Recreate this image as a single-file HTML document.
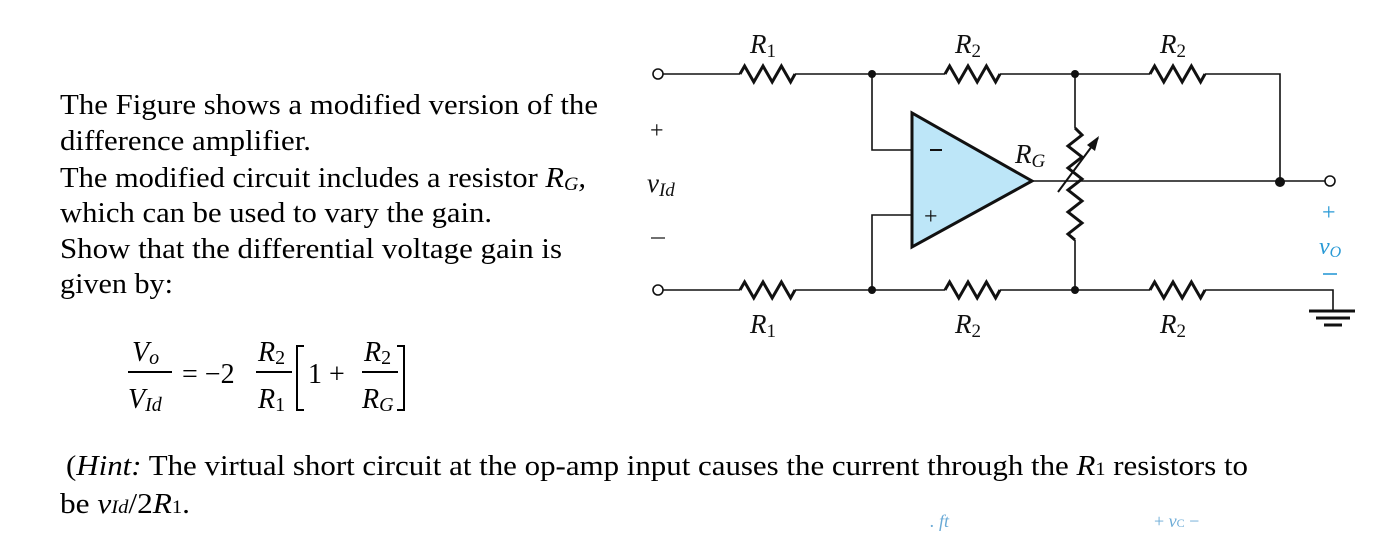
<!DOCTYPE html>
<html><head><meta charset="utf-8"><style>
html,body{margin:0;padding:0;background:#fff;}
svg{display:block;}
text{font-family:"Liberation Serif",serif;}
</style></head><body>
<svg width="1373" height="540" viewBox="0 0 1373 540" xmlns="http://www.w3.org/2000/svg">
<g font-size="29" fill="#000">
<text x="60" y="114" textLength="538" lengthAdjust="spacingAndGlyphs">The Figure shows a modified version of the</text>
<text x="60" y="150" textLength="251" lengthAdjust="spacingAndGlyphs">difference amplifier.</text>
<text x="60" y="187" textLength="526" lengthAdjust="spacingAndGlyphs">The modified circuit includes a resistor <tspan font-style="italic">R<tspan font-size="19" dy="3">G</tspan><tspan dy="-3">,</tspan></tspan></text>
<text x="60" y="222" textLength="432" lengthAdjust="spacingAndGlyphs">which can be used to vary the gain.</text>
<text x="60" y="258" textLength="502" lengthAdjust="spacingAndGlyphs">Show that the differential voltage gain is</text>
<text x="60" y="293" textLength="113" lengthAdjust="spacingAndGlyphs">given by:</text>
<text x="66" y="475" textLength="1182" lengthAdjust="spacingAndGlyphs">(<tspan font-style="italic">Hint:</tspan> The virtual short circuit at the op-amp input causes the current through the <tspan font-style="italic">R</tspan><tspan font-size="19">1</tspan> resistors to</text>
<text x="60" y="513" textLength="130" lengthAdjust="spacingAndGlyphs">be <tspan font-style="italic">v<tspan font-size="19">Id</tspan></tspan>/2<tspan font-style="italic">R</tspan><tspan font-size="19">1</tspan>.</text>
</g>
<!-- formula -->
<g font-size="28" fill="#000">
<text x="132" y="361" font-style="italic">V<tspan font-size="20" dy="3">o</tspan></text>
<line x1="128" y1="372" x2="172" y2="372" stroke="#000" stroke-width="2"/>
<text x="128" y="408" font-style="italic">V<tspan font-size="20" dy="3">Id</tspan></text>
<text x="182" y="383">= −2</text>
<text x="258" y="361" font-style="italic">R<tspan font-size="20" dy="3" font-style="normal">2</tspan></text>
<line x1="256" y1="372" x2="292" y2="372" stroke="#000" stroke-width="2"/>
<text x="258" y="408" font-style="italic">R<tspan font-size="20" dy="3" font-style="normal">1</tspan></text>
<path d="M304 346 H297 V410 H304" fill="none" stroke="#000" stroke-width="2"/>
<text x="308" y="383">1 +</text>
<text x="364" y="361" font-style="italic">R<tspan font-size="20" dy="3" font-style="normal">2</tspan></text>
<line x1="362" y1="372" x2="398" y2="372" stroke="#000" stroke-width="2"/>
<text x="362" y="408" font-style="italic">R<tspan font-size="20" dy="3">G</tspan></text>
<path d="M397 346 H404 V410 H397" fill="none" stroke="#000" stroke-width="2"/>
</g>
<!-- circuit -->
<g stroke="#111" stroke-width="1.6" fill="none">
<line x1="662" y1="74" x2="740" y2="74"/>
<line x1="795" y1="74" x2="945" y2="74"/>
<line x1="1000" y1="74" x2="1150" y2="74"/>
<polyline points="1205,74 1280,74 1280,182"/>
<line x1="662" y1="290" x2="740" y2="290"/>
<line x1="795" y1="290" x2="945" y2="290"/>
<line x1="1000" y1="290" x2="1150" y2="290"/>
<polyline points="1205,290 1333,290 1333,310"/>
<polyline points="872,74 872,150 912,150"/>
<polyline points="872,290 872,215 912,215"/>
<line x1="1075" y1="74" x2="1075" y2="128"/>
<line x1="1075" y1="240" x2="1075" y2="290"/>
<line x1="1032" y1="181" x2="1326" y2="181"/>
</g>
<g stroke="#111" stroke-width="3" fill="none" stroke-linejoin="miter">
<polyline points="740,74 744.6,66 753.8,82 763,66 772.2,82 781.4,66 790.6,82 795,74"/>
<polyline points="945,74 949.6,66 958.8,82 968,66 977.2,82 986.4,66 995.6,82 1000,74"/>
<polyline points="1150,74 1154.6,66 1163.8,82 1173,66 1182.2,82 1191.4,66 1200.6,82 1205,74"/>
<polyline points="740,290 744.6,282 753.8,298 763,282 772.2,298 781.4,282 790.6,298 795,290"/>
<polyline points="945,290 949.6,282 958.8,298 968,282 977.2,298 986.4,282 995.6,298 1000,290"/>
<polyline points="1150,290 1154.6,282 1163.8,298 1173,282 1182.2,298 1191.4,282 1200.6,298 1205,290"/>
<polyline points="1075,128 1082,135 1068,146 1082,157 1068,168 1082,179 1068,190 1082,201 1068,212 1082,223 1068,234 1075,240"/>
</g>
<line x1="1058" y1="192" x2="1098" y2="138" stroke="#111" stroke-width="2"/>
<path d="M1099 136 L1087 145 L1095 151 Z" fill="#111"/>
<polygon points="912,113 912,247 1032,181" fill="#bde6f8" stroke="#111" stroke-width="3"/>
<line x1="930" y1="150" x2="942" y2="150" stroke="#111" stroke-width="2"/>
<text x="924" y="224" font-size="24" fill="#111">+</text>
<g fill="#111">
<circle cx="872" cy="74" r="4"/><circle cx="1075" cy="74" r="4"/>
<circle cx="872" cy="290" r="4"/><circle cx="1075" cy="290" r="4"/>
<circle cx="1280" cy="182" r="5"/>
</g>
<g fill="#fff" stroke="#111" stroke-width="1.6">
<circle cx="658" cy="74" r="5"/><circle cx="658" cy="290" r="5"/><circle cx="1330" cy="181" r="5"/>
</g>
<g stroke="#111" stroke-width="3">
<line x1="1309" y1="311" x2="1355" y2="311"/>
<line x1="1316" y1="318" x2="1350" y2="318"/>
<line x1="1324" y1="325" x2="1342" y2="325"/>
</g>
<g font-size="27" fill="#111" font-style="italic">
<text x="750" y="53">R<tspan font-size="19" font-style="normal" dy="4">1</tspan></text>
<text x="955" y="53">R<tspan font-size="19" font-style="normal" dy="4">2</tspan></text>
<text x="1160" y="53">R<tspan font-size="19" font-style="normal" dy="4">2</tspan></text>
<text x="750" y="333">R<tspan font-size="19" font-style="normal" dy="4">1</tspan></text>
<text x="955" y="333">R<tspan font-size="19" font-style="normal" dy="4">2</tspan></text>
<text x="1160" y="333">R<tspan font-size="19" font-style="normal" dy="4">2</tspan></text>
<text x="1015" y="163">R<tspan font-size="19" dy="4">G</tspan></text>
<text x="647" y="192">v<tspan font-size="19" dy="4">Id</tspan></text>
</g>
<text x="650" y="138" font-size="24" fill="#111">+</text>
<line x1="651" y1="238" x2="665" y2="238" stroke="#111" stroke-width="1.2"/>
<text x="1322" y="220" font-size="24" fill="#2a9ad6">+</text>
<text x="1319" y="254" font-size="24" fill="#2a9ad6" font-style="italic">v<tspan font-size="16" dy="3">O</tspan></text>
<line x1="1323" y1="274" x2="1337" y2="274" stroke="#2a9ad6" stroke-width="1.6"/>
<text x="1154" y="527" font-size="18" fill="#6aaad6">+ <tspan font-style="italic">v</tspan><tspan font-size="12">C</tspan> −</text>
<text x="930" y="527" font-size="18" fill="#6aaad6" font-style="italic">. ft</text>
</svg>
</body></html>
